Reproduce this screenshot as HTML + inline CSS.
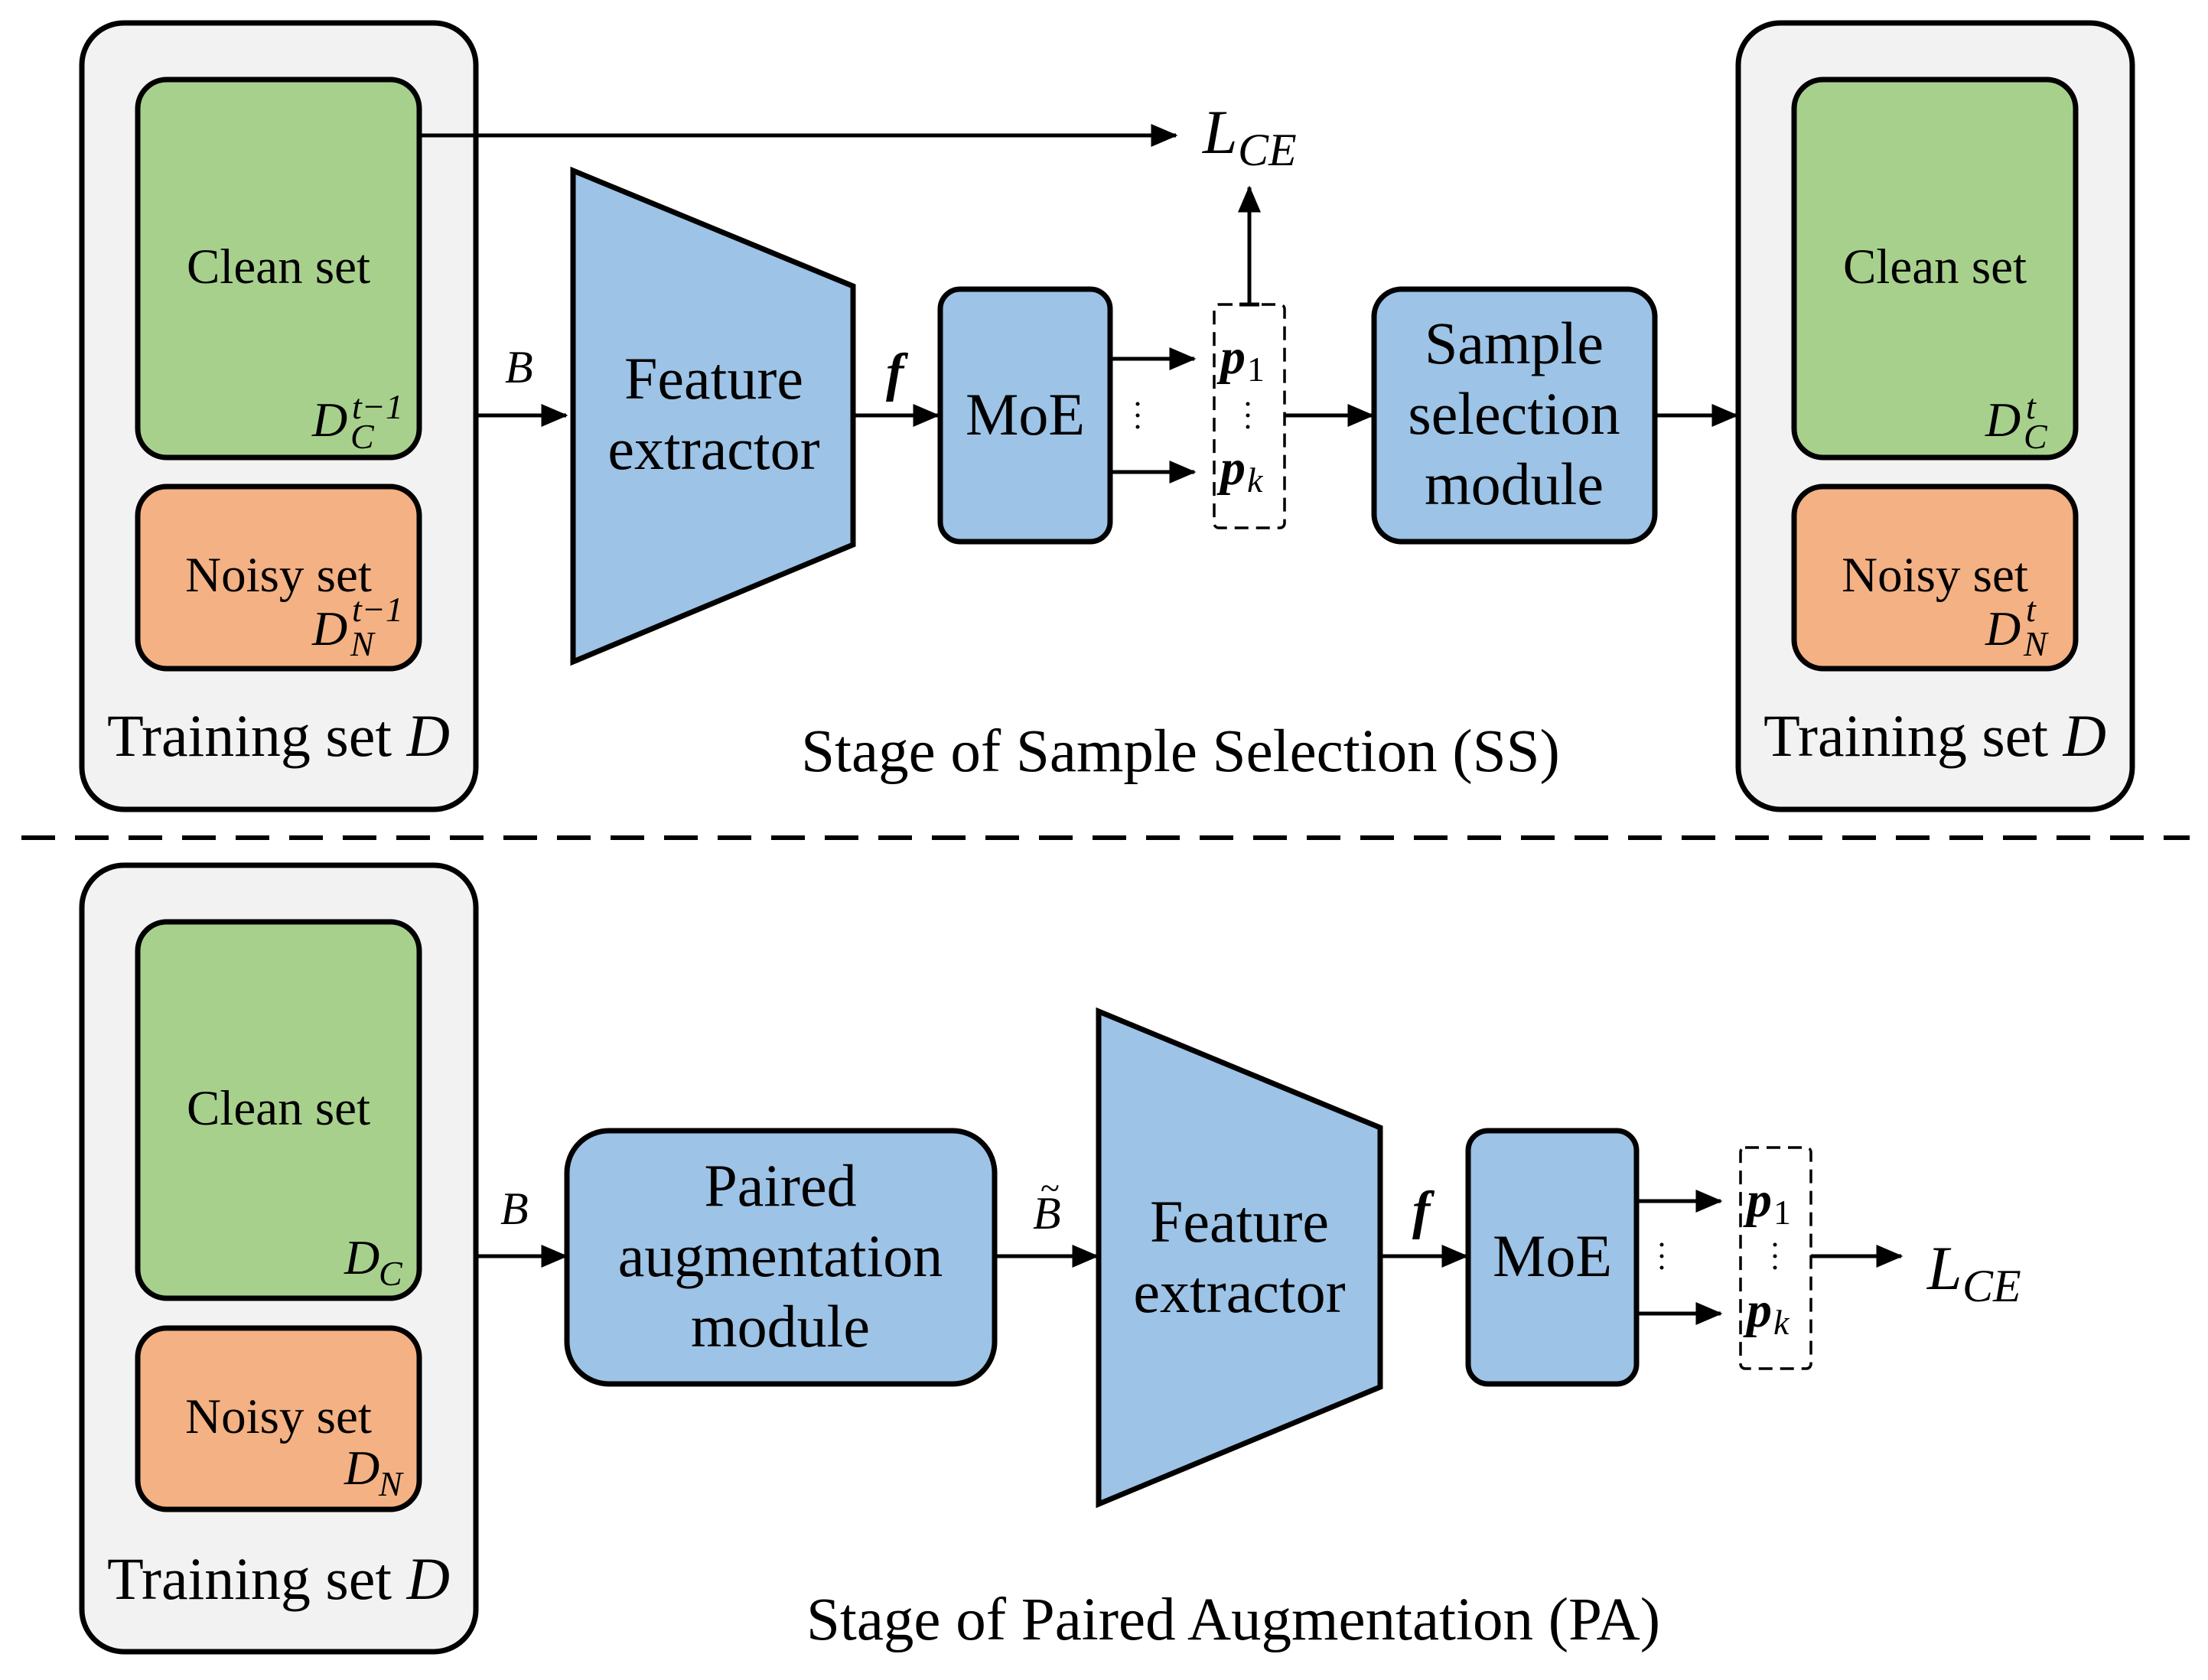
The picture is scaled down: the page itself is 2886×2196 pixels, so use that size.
<!DOCTYPE html>
<html><head><meta charset="utf-8"><style>
html,body{margin:0;padding:0;background:#fff}
svg{display:block}
</style></head><body>
<svg width="2886" height="2196" viewBox="0 0 2886 2196" xmlns="http://www.w3.org/2000/svg" font-family="'Liberation Serif', 'DejaVu Serif', serif">
<defs>
<marker id="ah" markerWidth="7" markerHeight="6" refX="6.5" refY="3" orient="auto" markerUnits="strokeWidth">
<path d="M0,0 L7,3 L0,6 z" fill="#000"/></marker>
</defs>
<g stroke="#000" stroke-width="7" stroke-linejoin="miter">
<rect x="107" y="30" width="515" height="1028" rx="55" fill="#f2f2f2"/>
<rect x="180" y="104" width="368" height="494" rx="38" fill="#a8d08d"/>
<rect x="180" y="636" width="368" height="238" rx="38" fill="#f4b183"/>
<rect x="2272" y="30" width="515" height="1028" rx="55" fill="#f2f2f2"/>
<rect x="2345" y="104" width="368" height="494" rx="38" fill="#a8d08d"/>
<rect x="2345" y="636" width="368" height="238" rx="38" fill="#f4b183"/>
<polygon points="749,223 1115,374 1115,712 749,865" fill="#9dc3e6"/>
<rect x="1229" y="378" width="222" height="330" rx="26" fill="#9dc3e6"/>
<rect x="1796" y="378" width="367" height="330" rx="36" fill="#9dc3e6"/>
<rect x="107" y="1131" width="515" height="1028" rx="55" fill="#f2f2f2"/>
<rect x="180" y="1205" width="368" height="492" rx="38" fill="#a8d08d"/>
<rect x="180" y="1736" width="368" height="237" rx="38" fill="#f4b183"/>
<rect x="741" y="1478" width="559" height="331" rx="55" fill="#9dc3e6"/>
<polygon points="1436,1322 1804,1474 1804,1813 1436,1966" fill="#9dc3e6"/>
<rect x="1919" y="1478" width="220" height="331" rx="26" fill="#9dc3e6"/>
</g>
<g stroke="#000" stroke-width="3.5" fill="none" stroke-dasharray="18,10">
<rect x="1587" y="398" width="92" height="292" rx="6"/>
<rect x="2275" y="1500" width="92" height="289" rx="6"/>
</g>
<line x1="28" y1="1095" x2="2862" y2="1095" stroke="#000" stroke-width="6" stroke-dasharray="44,26"/>
<g stroke="#000" stroke-width="5" fill="none" marker-end="url(#ah)">
<line x1="548" y1="177" x2="1537" y2="177"/>
<line x1="622" y1="543" x2="740" y2="543"/>
<line x1="1115" y1="543" x2="1226" y2="543"/>
<line x1="1452" y1="469" x2="1561" y2="469"/>
<line x1="1452" y1="617" x2="1561" y2="617"/>
<line x1="1633" y1="398" x2="1633" y2="245"/>
<line x1="1679" y1="543" x2="1794" y2="543"/>
<line x1="2163" y1="543" x2="2270" y2="543"/>
<line x1="622" y1="1642" x2="740" y2="1642"/>
<line x1="1300" y1="1642" x2="1434" y2="1642"/>
<line x1="1804" y1="1642" x2="1917" y2="1642"/>
<line x1="2139" y1="1570" x2="2249" y2="1570"/>
<line x1="2139" y1="1717" x2="2249" y2="1717"/>
<line x1="2367" y1="1642" x2="2485" y2="1642"/>
</g>
<line x1="1620" y1="398" x2="1646" y2="398" stroke="#000" stroke-width="5"/>
<g font-size="65" text-anchor="middle">
<text x="364" y="370">Clean set</text>
<text x="364" y="773">Noisy set</text>
<text x="2529" y="370">Clean set</text>
<text x="2529" y="773">Noisy set</text>
<text x="364" y="1470">Clean set</text>
<text x="364" y="1873">Noisy set</text>
</g>
<g font-size="78" text-anchor="middle">
<text x="364" y="988">Training set <tspan font-style="italic">D</tspan></text>
<text x="2529" y="988">Training set <tspan font-style="italic">D</tspan></text>
<text x="364" y="2090">Training set <tspan font-style="italic">D</tspan></text>
</g>
<g font-size="79" text-anchor="middle">
<text x="1543" y="1008">Stage of Sample Selection (SS)</text>
<text x="1612" y="2143">Stage of Paired Augmentation (PA)</text>
</g>
<g font-size="78" text-anchor="middle">
<text x="933" y="521">Feature</text>
<text x="933" y="613">extractor</text>
<text x="1340" y="568">MoE</text>
<text x="1979" y="475">Sample</text>
<text x="1979" y="567">selection</text>
<text x="1979" y="659">module</text>
<text x="1020" y="1576">Paired</text>
<text x="1020" y="1668">augmentation</text>
<text x="1020" y="1760">module</text>
<text x="1620" y="1623">Feature</text>
<text x="1620" y="1715">extractor</text>
<text x="2029" y="1668">MoE</text>
</g>
<g font-style="italic">
<text x="408" y="570" font-size="64">D</text><text x="460" y="547" font-size="46">t−1</text><text x="458" y="586" font-size="46">C</text>
<text x="408" y="843" font-size="64">D</text><text x="460" y="812" font-size="46">t−1</text><text x="458" y="857" font-size="46">N</text>
<text x="2595" y="570" font-size="64">D</text><text x="2648" y="547" font-size="46">t</text><text x="2645" y="586" font-size="46">C</text>
<text x="2595" y="843" font-size="64">D</text><text x="2648" y="812" font-size="46">t</text><text x="2645" y="857" font-size="46">N</text>
<text x="450" y="1665" font-size="64">D</text><text x="495" y="1680" font-size="46">C</text>
<text x="450" y="1940" font-size="64">D</text><text x="495" y="1955" font-size="46">N</text>
<text x="660" y="500" font-size="60">B</text>
<text x="654" y="1600" font-size="60">B</text>
<text x="1350" y="1606" font-size="60">B</text>
</g>
<text x="1360" y="1568" font-size="46">~</text>
<g font-style="italic" font-size="70" font-weight="bold">
<text x="1158" y="510">f</text>
<text x="1846" y="1605">f</text>
</g>
<g font-style="italic">
<text x="1572" y="200" font-size="82">L</text><text x="1618" y="216" font-size="60">CE</text>
<text x="2519" y="1685" font-size="82">L</text><text x="2565" y="1701" font-size="60">CE</text>
</g>
<g>
<text x="1595" y="488" font-size="66" font-style="italic" font-weight="bold">p</text><text x="1630" y="498" font-size="46">1</text>
<text x="1595" y="633" font-size="66" font-style="italic" font-weight="bold">p</text><text x="1630" y="643" font-size="46" font-style="italic">k</text>
<text x="2283" y="1590" font-size="66" font-style="italic" font-weight="bold">p</text><text x="2318" y="1600" font-size="46">1</text>
<text x="2283" y="1734" font-size="66" font-style="italic" font-weight="bold">p</text><text x="2318" y="1744" font-size="46" font-style="italic">k</text>
</g>
<g fill="#000">
<circle cx="1487" cy="528" r="2.5"/><circle cx="1487" cy="543" r="2.5"/><circle cx="1487" cy="558" r="2.5"/>
<circle cx="1631" cy="528" r="2.5"/><circle cx="1631" cy="543" r="2.5"/><circle cx="1631" cy="558" r="2.5"/>
<circle cx="2172" cy="1627" r="2.5"/><circle cx="2172" cy="1642" r="2.5"/><circle cx="2172" cy="1657" r="2.5"/>
<circle cx="2320" cy="1627" r="2.5"/><circle cx="2320" cy="1642" r="2.5"/><circle cx="2320" cy="1657" r="2.5"/>
</g>
</svg>
</body></html>
